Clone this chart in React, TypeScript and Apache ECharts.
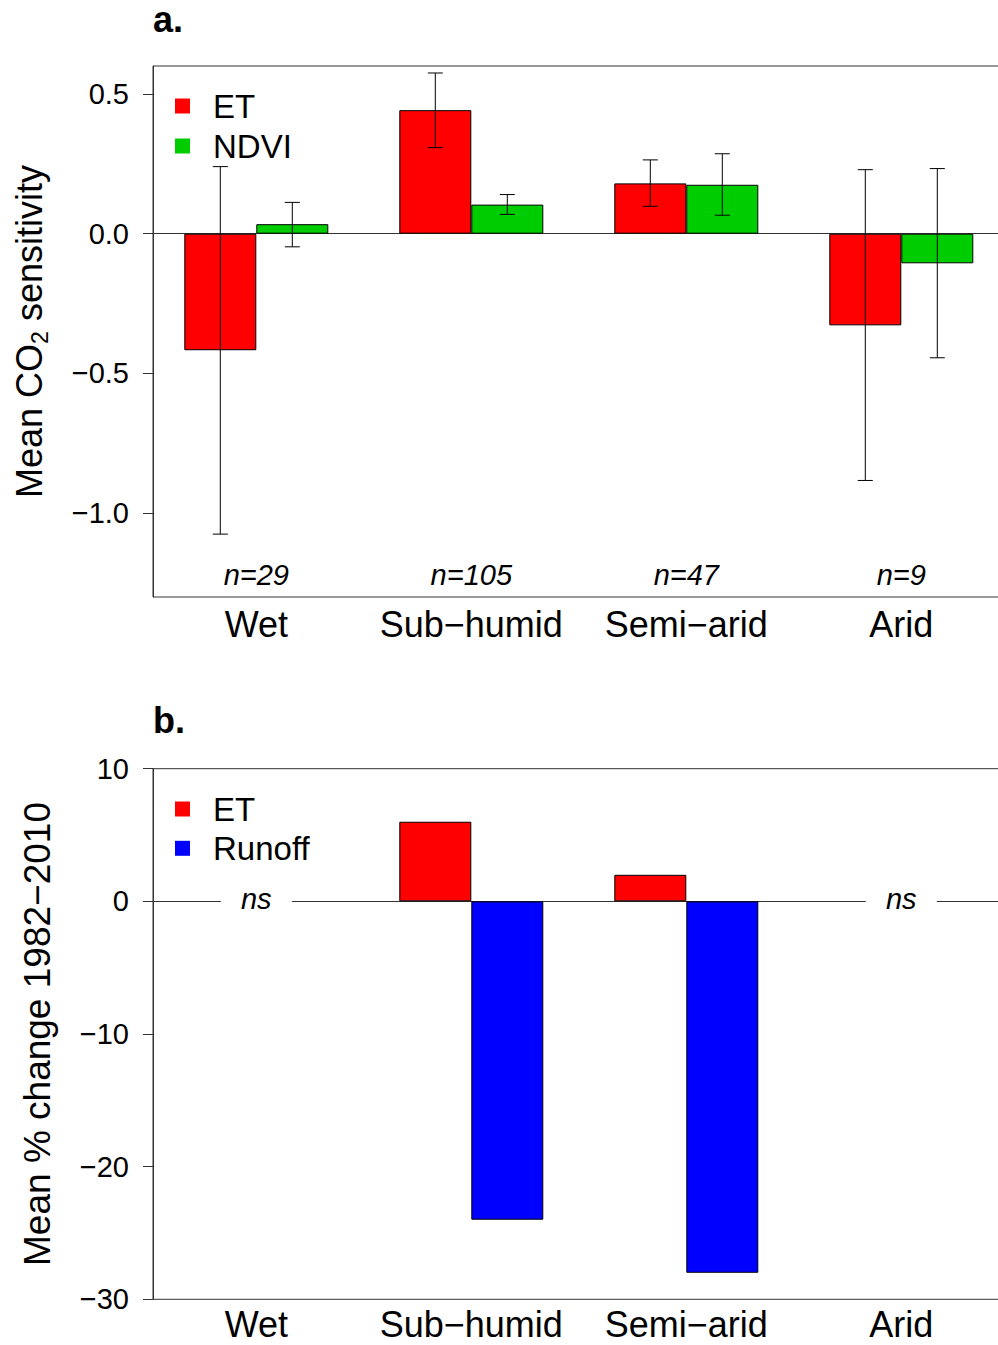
import React, { useEffect, useRef } from 'react';
import * as echarts from 'echarts';

// ---------- data ----------
const categories = ['Wet', 'Sub−humid', 'Semi−arid', 'Arid'];
const sampleSizes = ['n=29', 'n=105', 'n=47', 'n=9'];

const etSensitivity = [-0.417, 0.442, 0.18, -0.328];
const etSensitivityLow = [-1.075, 0.308, 0.098, -0.883];
const etSensitivityHigh = [0.24, 0.575, 0.264, 0.229];
const ndviSensitivity = [0.034, 0.104, 0.175, -0.106];
const ndviSensitivityLow = [-0.047, 0.069, 0.066, -0.444];
const ndviSensitivityHigh = [0.112, 0.14, 0.286, 0.233];
const sensitivityTicks = [-1.0, -0.5, 0.0, 0.5];

const etChange: (number | null)[] = [null, 6.0, 2.0, null];
const runoffChange: (number | null)[] = [null, -24.0, -28.0, null];
const significance = ['ns', '', '', 'ns'];

// ---------- style ----------
const FONT = 'Liberation Sans';
const RED = '#FF0000';
const GREEN = '#00CD00';
const BLUE = '#0000FF';
const AXIS = '#333333';
const BAR_W = 72;
const CAP = 7.5;

const minus = (s: string) => s.replace('-', '−');

function errorSeries(name: string, low: number[], high: number[], side: number) {
  return {
    type: 'custom',
    name,
    xAxisIndex: 1,
    yAxisIndex: 1,
    z: 5,
    silent: true,
    data: low.map((l, i) => [i, l, high[i]]),
    renderItem: (_p: any, api: any) => {
      const i = api.value(0);
      const top = api.coord([i, api.value(2)]);
      const bot = api.coord([i, api.value(1)]);
      const x = top[0] + (side * BAR_W) / 2;
      const st = { stroke: '#000', lineWidth: 1 };
      return {
        type: 'group',
        children: [
          { type: 'line', shape: { x1: x, y1: top[1], x2: x, y2: bot[1] }, style: st },
          { type: 'line', shape: { x1: x - CAP, y1: top[1], x2: x + CAP, y2: top[1] }, style: st },
          { type: 'line', shape: { x1: x - CAP, y1: bot[1], x2: x + CAP, y2: bot[1] }, style: st },
        ],
      };
    },
  };
}

export default function App() {
  const ref = useRef<HTMLDivElement>(null);

  useEffect(() => {
    if (!ref.current) return;
    const chart = echarts.init(ref.current, undefined, { renderer: 'svg' });

    const boxA = { left: 153, top: 66, width: 870, height: 531 };
    const barsA = { left: 148.8, top: 66, width: 860, height: 531 };
    const boxB = { left: 153, top: 768.7, width: 870, height: 530.6 };
    const barsB = { left: 148.8, top: 768.7, width: 860, height: 530.6 };

    const boxXAxis = (gridIndex: number) => ({
      type: 'value',
      gridIndex,
      min: 0,
      max: 1,
      axisLine: { show: true, onZero: true, lineStyle: { color: AXIS, width: 1 } },
      axisTick: { show: false },
      axisLabel: { show: false },
      splitLine: { show: false },
    });

    const catAxis = (gridIndex: number, margin: number) => ({
      type: 'category',
      gridIndex,
      position: 'bottom',
      data: categories,
      axisLine: { show: false },
      axisTick: { show: false },
      axisLabel: { fontSize: 36, lineHeight: 30, color: '#000', margin, fontFamily: FONT, interval: 0 },
      splitLine: { show: false },
    });

    const yBase = {
      axisLine: { show: true, lineStyle: { color: AXIS, width: 1 } },
      axisTick: { show: true, inside: false, length: 10, lineStyle: { color: AXIS } },
      splitLine: { show: false },
      nameLocation: 'middle',
    };

    const legendBase = {
      orient: 'vertical',
      left: 175,
      padding: 0,
      itemWidth: 15,
      itemHeight: 15,
      icon: 'rect',
      itemStyle: { borderWidth: 0 },
      selectedMode: false,
      textStyle: { fontSize: 33, color: '#000', fontFamily: FONT, padding: [0, 0, 0, 18] },
    };

    const option: any = {
      animation: false,
      backgroundColor: '#fff',
      textStyle: { fontFamily: FONT },
      title: [
        { text: 'a.', left: 153, top: 1, padding: 0, textStyle: { fontSize: 36, fontWeight: 'bold', color: '#000', fontFamily: FONT } },
        { text: 'b.', left: 153, top: 702.8, padding: 0, textStyle: { fontSize: 36, fontWeight: 'bold', color: '#000', fontFamily: FONT } },
      ],
      legend: [
        { ...legendBase, data: ['ET', 'NDVI'], top: 89.5, itemGap: 7 },
        { ...legendBase, data: ['ET', 'Runoff'], top: 792.5, itemGap: 6.3 },
      ],
      grid: [
        { ...boxA, show: true, borderColor: AXIS, borderWidth: 1, backgroundColor: 'transparent' },
        { ...barsA, show: false },
        { ...boxB, show: true, borderColor: AXIS, borderWidth: 1, backgroundColor: 'transparent' },
        { ...barsB, show: false },
      ],
      xAxis: [
        boxXAxis(0),
        catAxis(1, 12),
        {
          type: 'category',
          gridIndex: 1,
          position: 'bottom',
          data: sampleSizes,
          axisLine: { show: false },
          axisTick: { show: false },
          axisLabel: { inside: true, fontSize: 29, fontStyle: 'italic', color: '#000', margin: 8, fontFamily: FONT, interval: 0 },
          splitLine: { show: false },
        },
        boxXAxis(2),
        catAxis(3, 10),
      ],
      yAxis: [
        {
          ...yBase,
          type: 'value',
          gridIndex: 0,
          min: -1.3,
          max: 0.6,
          axisTick: { ...yBase.axisTick, customValues: sensitivityTicks },
          axisLabel: {
            customValues: sensitivityTicks,
            fontSize: 29,
            color: '#000',
            margin: 24,
            fontFamily: FONT,
            formatter: (v: number) => minus(v.toFixed(1)),
          },
          name: '{n|Mean CO}{s|2}{n| sensitivity}',
          nameGap: 102,
          nameTextStyle: {
            rich: {
              n: { fontSize: 36, lineHeight: 44, color: '#000', fontFamily: FONT },
              s: { fontSize: 23, lineHeight: 22, verticalAlign: 'bottom', color: '#000', fontFamily: FONT },
            },
          },
        },
        { type: 'value', gridIndex: 1, min: -1.3, max: 0.6, show: false, splitLine: { show: false } },
        {
          ...yBase,
          type: 'value',
          gridIndex: 2,
          min: -30,
          max: 10,
          interval: 10,
          axisLabel: {
            fontSize: 29,
            color: '#000',
            margin: 24,
            fontFamily: FONT,
            formatter: (v: number) => minus(String(v)),
          },
          name: 'Mean % change 1982−2010',
          nameGap: 97,
          nameTextStyle: { fontSize: 37, color: '#000', fontFamily: FONT },
        },
        { type: 'value', gridIndex: 3, min: -30, max: 10, show: false, splitLine: { show: false } },
      ],
      series: [
        {
          type: 'bar',
          name: 'ET',
          xAxisIndex: 1,
          yAxisIndex: 1,
          data: etSensitivity,
          barWidth: BAR_W,
          barGap: '0%',
          itemStyle: { color: RED, borderColor: '#000', borderWidth: 1 },
        },
        {
          type: 'bar',
          name: 'NDVI',
          xAxisIndex: 1,
          yAxisIndex: 1,
          data: ndviSensitivity,
          barWidth: BAR_W,
          barGap: '0%',
          itemStyle: { color: GREEN, borderColor: '#000', borderWidth: 1 },
        },
        errorSeries('ET error', etSensitivityLow, etSensitivityHigh, -1),
        errorSeries('NDVI error', ndviSensitivityLow, ndviSensitivityHigh, 1),
        {
          type: 'bar',
          name: 'ET',
          xAxisIndex: 4,
          yAxisIndex: 3,
          data: etChange,
          barWidth: BAR_W,
          barGap: '0%',
          itemStyle: { color: RED, borderColor: '#000', borderWidth: 1 },
        },
        {
          type: 'bar',
          name: 'Runoff',
          xAxisIndex: 4,
          yAxisIndex: 3,
          data: runoffChange,
          barWidth: BAR_W,
          barGap: '0%',
          itemStyle: { color: BLUE, borderColor: '#000', borderWidth: 1 },
        },
        {
          type: 'custom',
          name: 'significance',
          xAxisIndex: 4,
          yAxisIndex: 3,
          z: 6,
          silent: true,
          data: significance.map((s, i) => [i, 0, s ? 1 : 0]).filter((d) => d[2] === 1),
          renderItem: (_p: any, api: any) => {
            const i = api.value(0);
            const pt = api.coord([i, api.value(1)]);
            return {
              type: 'group',
              children: [
                {
                  type: 'rect',
                  shape: { x: pt[0] - 35.5, y: pt[1] - 16, width: 71, height: 32 },
                  style: { fill: '#fff' },
                },
                {
                  type: 'text',
                  x: pt[0],
                  y: pt[1] - 2.5,
                  style: {
                    text: significance[i],
                    fill: '#000',
                    fontSize: 29,
                    fontStyle: 'italic',
                    fontFamily: FONT,
                    align: 'center',
                    verticalAlign: 'middle',
                  },
                },
              ],
            };
          },
        },
      ],
    };

    chart.setOption(option);
    return () => chart.dispose();
  }, []);

  return (
    <div
      style={{ position: 'absolute', left: 0, top: 0, width: 998, height: 1345, overflow: 'hidden', background: '#fff' }}
    >
      <div ref={ref} style={{ width: 1040, height: 1345 }} />
    </div>
  );
}
